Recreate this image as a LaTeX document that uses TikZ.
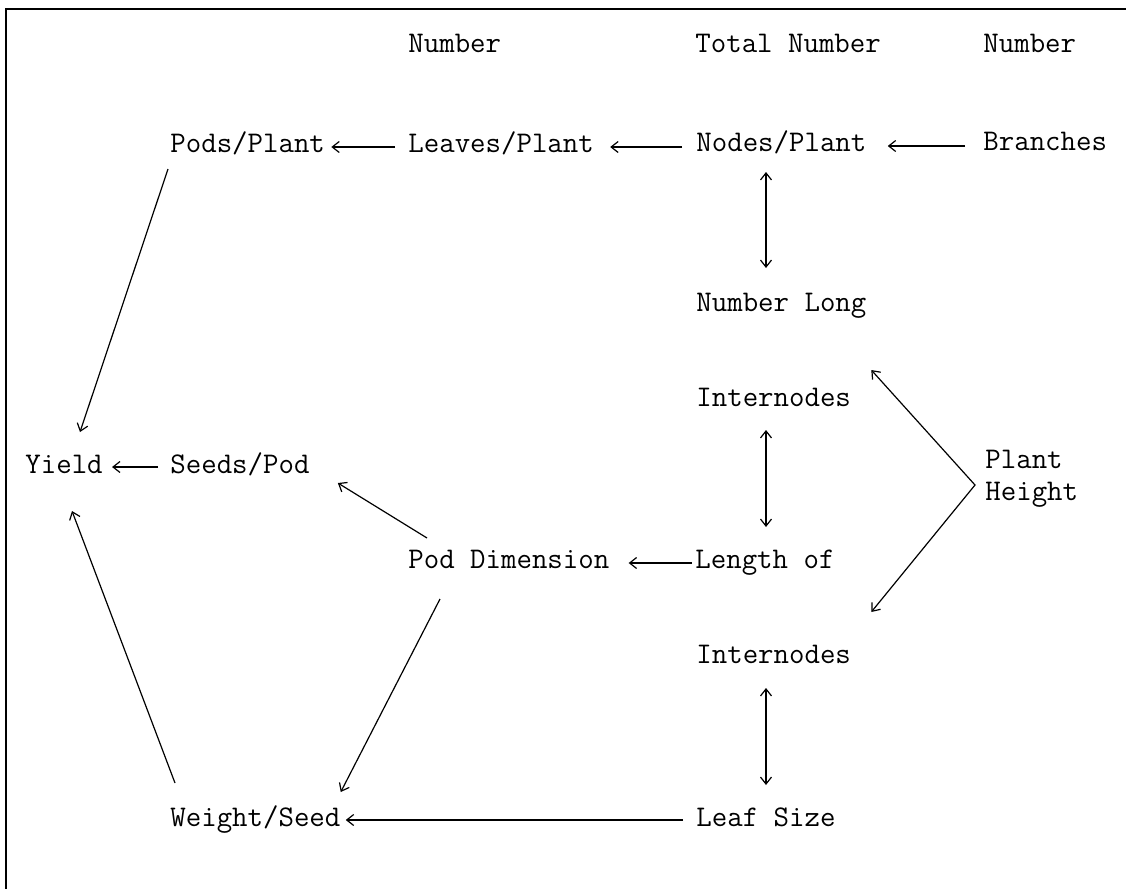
\documentclass[tikz,border=0pt]{standalone}
\usetikzlibrary{arrows.meta,calc}
\begin{document}
\begin{tikzpicture}[x=0.5pt,y=-0.5pt,
    lbl/.style={anchor=base west,inner sep=0pt,font=\ttfamily\fontsize{15}{16}\selectfont},
    arr/.style={line width=0.6pt,-{Straight Barb[length=3.5pt,width=5.5pt]}},
    arrb/.style={line width=0.6pt,{Straight Barb[length=3.5pt,width=5.5pt]}-{Straight Barb[length=3.5pt,width=5.5pt]}}]
    \useasboundingbox (0,0) rectangle (1126,889);
    %% frame
    \draw[line width=1pt] (6,889) -- (6,9) -- (1126,9);
    %% column heads
    \node[lbl] (hdA) at (408,52) {Number};
    \node[lbl] (hdB) at (695,52) {Total Number};
    \node[lbl] (hdC) at (983,52) {Number};
    %% labels
    \node[lbl] (pods) at (170,152) {Pods/Plant};
    \node[lbl] (leaves) at (408,152) {Leaves/Plant};
    \node[lbl] (nodes) at (696,151) {Nodes/Plant};
    \node[lbl] (branches) at (983,150) {Branches};
    \node[lbl] (numlong) at (696,311) {Number Long};
    \node[lbl] (intA) at (696,406) {Internodes};
    \node[lbl,anchor=north west,align=left] (height) at (985,450) {Plant\\Height};
    \node[lbl] (yield) at (25,473) {Yield};
    \node[lbl] (seeds) at (170,473) {Seeds/Pod};
    \node[lbl] (poddim) at (408,568) {Pod Dimension};
    \node[lbl] (lengthof) at (695,568) {Length of};
    \node[lbl] (intB) at (696,663) {Internodes};
    \node[lbl] (weight) at (170,826) {Weight/Seed};
    \node[lbl] (leaf) at (696,826) {Leaf Size};
    %% top row
    \draw[arr] ($(leaves.base west)+(-13,-5)$) -- ($(pods.base east)+(6,-5)$);
    \draw[arr] ($(nodes.base west)+(-14,-4)$) -- ($(leaves.base east)+(16,-5)$);
    \draw[arr] ($(branches.base west)+(-18,-4)$) -- ($(nodes.base east)+(21,-5)$);
    %% right column
    \draw[arrb] ($(nodes.base west)+(70,21)$) -- ($(numlong.base west)+(70,-43)$);
    \draw[arrb] ($(intA.base west)+(70,24)$) -- ($(lengthof.base west)+(71,-41)$);
    \draw[arrb] ($(intB.base west)+(70,25)$) -- ($(leaf.base west)+(70,-41)$);
    %% plant height
    \draw[arrb] ($(intA.base east)+(20,-36)$) -- ($(height.north west)+(-10,35)$) -- ($(intB.base east)+(20,-51)$);
    %% into yield
    \draw[arr] ($(pods.base west)+(-2,17)$) -- ($(yield.base west)+(55,-41)$);
    \draw[arr] ($(seeds.base west)+(-12,-6)$) -- ($(yield.base east)+(9,-6)$);
    \draw[arr] ($(weight.base west)+(5,-43)$) -- ($(yield.base west)+(47,38)$);
    %% pod dimension
    \draw[arr] ($(poddim.base west)+(19,-30)$) -- ($(seeds.base east)+(28,10)$);
    \draw[arr] ($(lengthof.base west)+(-3,-5)$) -- ($(poddim.base east)+(19,-5)$);
    \draw[arr] ($(poddim.base west)+(32,31)$) -- ($(weight.base east)+(0,-34)$);
    %% leaf size
    \draw[arr] ($(leaf.base west)+(-13,-6)$) -- ($(weight.base east)+(5,-6)$);
\end{tikzpicture}
\end{document}
